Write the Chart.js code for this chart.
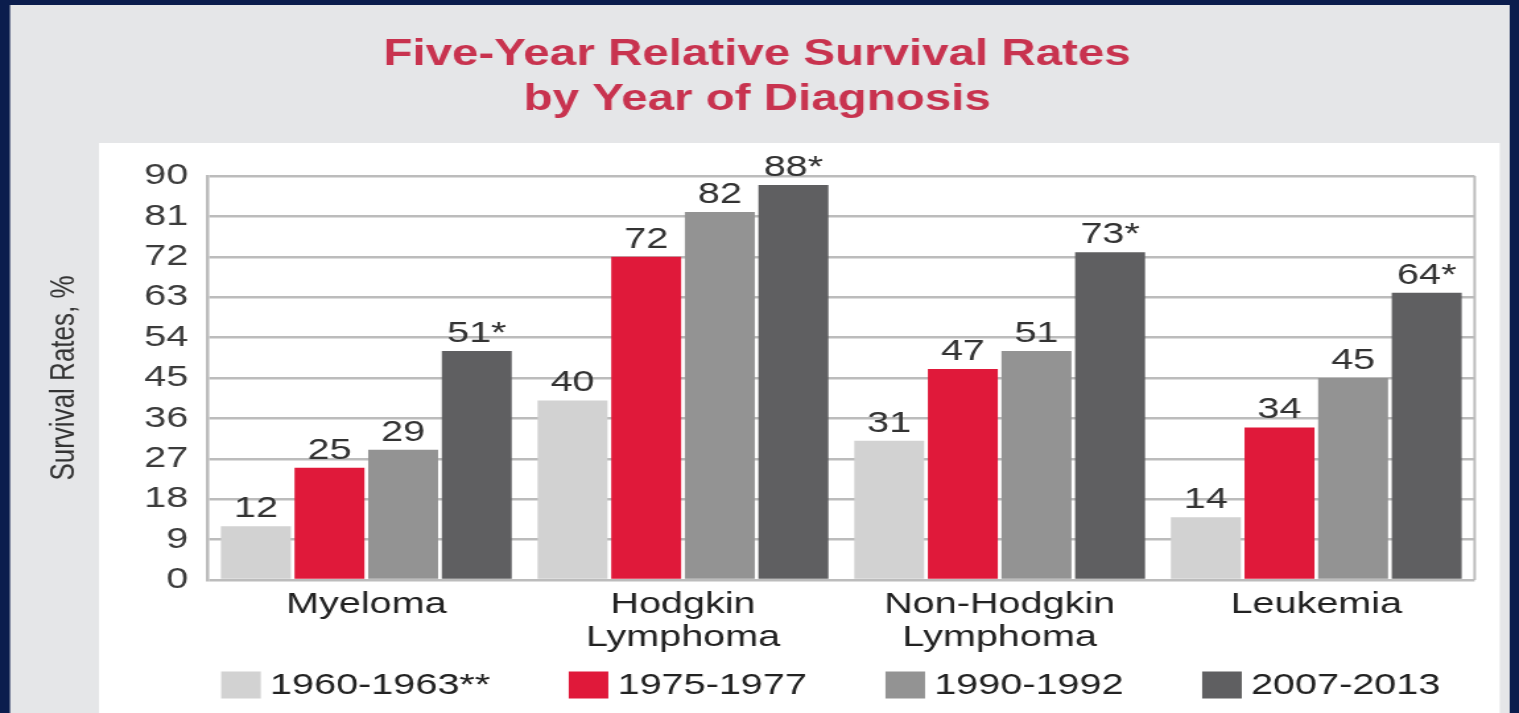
<!DOCTYPE html>
<html>
<head>
<meta charset="utf-8">
<script src="https://cdn.jsdelivr.net/npm/chart.js@4.4.1/dist/chart.umd.min.js"></script>
<style>
  html, body { margin: 0; padding: 0; background: #0b1d4d; overflow: hidden; }
  /* the reference picture is stretched sideways, so the chart is drawn narrow and widened */
  #wrap { width: 1151px; height: 713px; transform: scaleX(1.3197); transform-origin: 0 0; }
</style>
</head>
<body>
<div id="wrap"><canvas id="survivalChart"></canvas></div>
<script>
// categorias y series
const categories = [['Myeloma'], ['Hodgkin', 'Lymphoma'], ['Non-Hodgkin', 'Lymphoma'], ['Leukemia']];
const seriesLabels = ['1960-1963**', '1975-1977', '1990-1992', '2007-2013'];
const rates1960 = [12, 40, 31, 14];
const rates1975 = [25, 72, 47, 34];
const rates1990 = [29, 82, 51, 45];
const rates2007 = [51, 88, 73, 64];
const starred = [false, false, false, true];
const yMin = 0, yMax = 90, yStep = 9;

const colors = ['#d2d2d2', '#e0193a', '#939393', '#5f5f61'];
const font = "'Liberation Sans', Arial, sans-serif";

// fondo: marco azul, panel gris y panel blanco
const backgroundPlugin = {
    id: 'panels',
    beforeDraw(chart) {
        const { ctx, width, height } = chart;
        ctx.save();
        ctx.fillStyle = '#0b1d4d';
        ctx.fillRect(0, 0, width, height);
        ctx.fillStyle = '#e5e6e8';
        ctx.fillRect(7.6, 5, 1144 - 7.6, height - 5);
        ctx.fillStyle = '#ffffff';
        ctx.fillRect(75, 143, 1136.4 - 75, height - 143);
        ctx.restore();
    }
};

// borde derecho del area de trazado
const frameLine = {
    id: 'frameLine',
    beforeDatasetsDraw(chart) {
        const { ctx, chartArea } = chart;
        ctx.save();
        ctx.strokeStyle = '#bcbcbc';
        ctx.lineWidth = 2;
        ctx.beginPath();
        ctx.moveTo(chartArea.right, chartArea.top);
        ctx.lineTo(chartArea.right, chartArea.bottom);
        ctx.stroke();
        ctx.restore();
    }
};

// etiquetas de valor encima de cada barra
const valueLabels = {
    id: 'valueLabels',
    afterDatasetsDraw(chart) {
        const { ctx } = chart;
        ctx.save();
        ctx.font = `30px ${font}`;
        ctx.fillStyle = '#333333';
        ctx.textAlign = 'center';
        ctx.textBaseline = 'alphabetic';
        chart.data.datasets.forEach((ds, i) => {
            chart.getDatasetMeta(i).data.forEach((bar, j) => {
                const txt = ds.data[j] + (starred[i] ? '*' : '');
                ctx.fillText(txt, bar.x, bar.y - 9);
            });
        });
        ctx.restore();
    }
};

// leyenda repartida a lo ancho, como en el original
const spreadLegend = {
    id: 'spreadLegend',
    afterDraw(chart) {
        const { ctx, chartArea } = chart;
        const boxW = 30, boxH = 27, gap = 15;
        ctx.save();
        ctx.font = `30px ${font}`;
        const items = chart.data.datasets.map(ds => ({
            text: ds.label,
            color: ds.backgroundColor,
            w: boxW + gap + ctx.measureText(ds.label).width
        }));
        const left = chartArea.left + 10, right = chartArea.right - 18;
        const total = items.reduce((s, it) => s + it.w, 0);
        const space = (right - left - total) / (items.length - 1);
        const cy = chart.scales.x.bottom + 25;
        let x = left;
        ctx.textBaseline = 'middle';
        ctx.textAlign = 'left';
        items.forEach(it => {
            ctx.fillStyle = it.color;
            ctx.fillRect(x, cy - boxH / 2, boxW, boxH);
            ctx.fillStyle = '#222222';
            ctx.fillText(it.text, x + boxW + gap - 8, cy + 1);
            x += it.w + space;
        });
        ctx.restore();
    }
};

const ctx = document.getElementById('survivalChart').getContext('2d');
new Chart(ctx, {
    type: 'bar',
    data: {
        labels: categories,
        datasets: [
            { label: seriesLabels[0], data: rates1960, backgroundColor: colors[0] },
            { label: seriesLabels[1], data: rates1975, backgroundColor: colors[1] },
            { label: seriesLabels[2], data: rates1990, backgroundColor: colors[2] },
            { label: seriesLabels[3], data: rates2007, backgroundColor: colors[3] }
        ]
    },
    options: {
        responsive: true,
        maintainAspectRatio: false,
        animation: false,
        layout: { padding: { top: 20, left: 30, right: 33.6, bottom: 53 } },
        datasets: { bar: { categoryPercentage: 0.93, barPercentage: 0.95, borderWidth: 0 } },
        plugins: {
            legend: { display: false },
            tooltip: { enabled: false },
            title: {
                display: true,
                text: ['Five-Year Relative Survival Rates', 'by Year of Diagnosis'],
                color: '#c8334f',
                font: { family: font, size: 36, weight: 'bold', lineHeight: 1.25 },
                padding: { top: 13, bottom: 53 }
            }
        },
        scales: {
            x: {
                grid: { display: false, drawTicks: false },
                border: { display: false },
                ticks: { color: '#222222', font: { family: font, size: 30, lineHeight: 1.1 }, padding: 8, maxRotation: 0, autoSkip: false },
                afterFit(scale) { scale.height = 80; }
            },
            y: {
                min: yMin,
                max: yMax,
                grid: { color: '#bcbcbc', lineWidth: 2.5, drawTicks: false },
                border: { display: true, color: '#bcbcbc', width: 2.5 },
                ticks: { stepSize: yStep, color: '#3c3c3c', font: { family: font, size: 30 }, padding: 15 },
                title: {
                    display: true,
                    text: 'Survival Rates, %',
                    color: '#333333',
                    font: { family: "'Liberation Sans Narrow', 'Liberation Sans', Arial, sans-serif", size: 26 },
                    padding: { top: 3, bottom: 0 }
                },
                afterFit(scale) { scale.width = 127.6; }
            }
        }
    },
    plugins: [backgroundPlugin, frameLine, valueLabels, spreadLegend]
});
</script>
</body>
</html>
